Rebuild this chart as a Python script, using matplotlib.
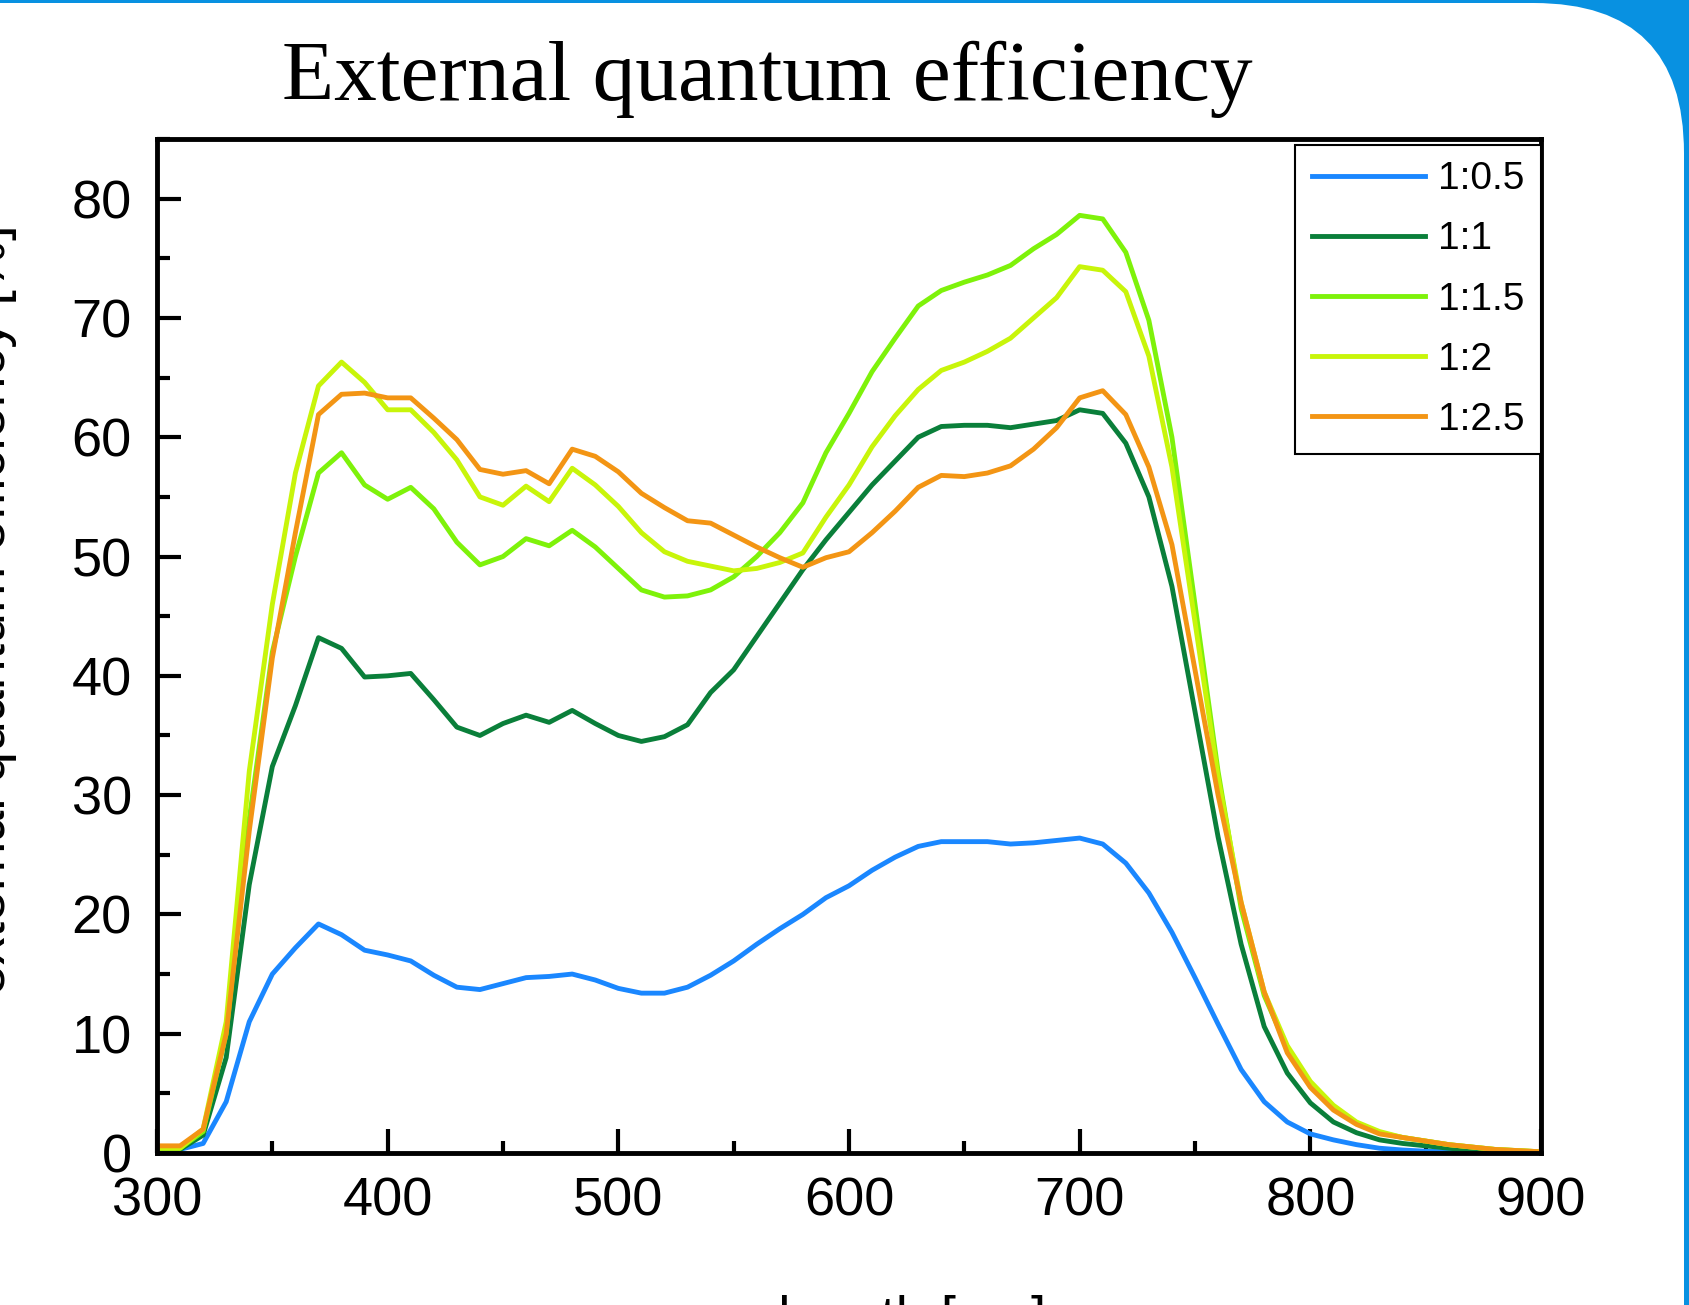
import matplotlib
matplotlib.use("Agg")
import matplotlib.pyplot as plt
import numpy as np
from matplotlib.patches import FancyBboxPatch
from matplotlib.transforms import IdentityTransform
from matplotlib.ticker import MultipleLocator

# wavelength grid [nm]
wl = np.arange(300, 910, 10)

eqe_05 = [0.3, 0.3, 0.8, 4.3, 11.0, 15.0, 17.2, 19.2, 18.3, 17.0,
          16.6, 16.1, 14.9, 13.9, 13.7, 14.2, 14.7, 14.8, 15.0, 14.5,
          13.8, 13.4, 13.4, 13.9, 14.9, 16.1, 17.5, 18.8, 20.0, 21.4,
          22.4, 23.7, 24.8, 25.7, 26.1, 26.1, 26.1, 25.9, 26.0, 26.2,
          26.4, 25.9, 24.3, 21.8, 18.5, 14.7, 10.8, 7.0, 4.3, 2.6,
          1.6, 1.1, 0.7, 0.4, 0.25, 0.15, 0.1, 0.05, 0.03, 0.02,
          0.01]
eqe_1 = [0.3, 0.3, 1.5, 8.0, 22.5, 32.4, 37.5, 43.2, 42.3, 39.9,
         40.0, 40.2, 38.0, 35.7, 35.0, 36.0, 36.7, 36.1, 37.1, 36.0,
         35.0, 34.5, 34.9, 35.9, 38.6, 40.5, 43.3, 46.1, 48.9, 51.4,
         53.7, 56.0, 58.0, 60.0, 60.9, 61.0, 61.0, 60.8, 61.1, 61.4,
         62.3, 62.0, 59.5, 55.0, 47.5, 37.0, 26.5, 17.5, 10.6, 6.7,
         4.2, 2.6, 1.7, 1.1, 0.8, 0.6, 0.4, 0.25, 0.15, 0.1,
         0.05]
eqe_15 = [0.4, 0.4, 1.8, 10.0, 28.0, 42.0, 50.0, 57.0, 58.7, 56.0,
          54.8, 55.8, 54.0, 51.2, 49.3, 50.0, 51.5, 50.9, 52.2, 50.8,
          49.0, 47.2, 46.6, 46.7, 47.2, 48.3, 50.0, 52.0, 54.5, 58.7,
          62.0, 65.5, 68.3, 71.0, 72.3, 73.0, 73.6, 74.4, 75.8, 77.0,
          78.6, 78.3, 75.5, 69.8, 60.0, 46.0, 32.0, 20.5, 13.2, 8.8,
          5.8, 3.8, 2.5, 1.7, 1.3, 1.0, 0.7, 0.5, 0.3, 0.2,
          0.1]
eqe_2 = [0.4, 0.4, 2.0, 11.0, 32.0, 46.0, 57.0, 64.3, 66.3, 64.6,
         62.3, 62.3, 60.4, 58.1, 55.0, 54.3, 55.9, 54.6, 57.4, 56.0,
         54.2, 52.0, 50.4, 49.6, 49.2, 48.8, 49.0, 49.5, 50.3, 53.3,
         56.0, 59.2, 61.8, 64.0, 65.6, 66.3, 67.2, 68.3, 70.0, 71.7,
         74.3, 74.0, 72.2, 66.8, 57.5, 44.5, 31.5, 21.0, 13.5, 9.0,
         6.0, 4.0, 2.6, 1.8, 1.3, 1.0, 0.7, 0.5, 0.3, 0.2,
         0.1]
eqe_25 = [0.6, 0.6, 2.0, 10.0, 27.0, 41.5, 52.0, 61.9, 63.6, 63.7,
          63.3, 63.3, 61.6, 59.8, 57.3, 56.9, 57.2, 56.1, 59.0, 58.4,
          57.1, 55.3, 54.1, 53.0, 52.8, 51.8, 50.8, 49.9, 49.1, 49.9,
          50.4, 52.0, 53.8, 55.8, 56.8, 56.7, 57.0, 57.6, 59.0, 60.8,
          63.3, 63.9, 61.9, 57.5, 51.0, 40.5, 30.0, 21.0, 13.5, 8.4,
          5.5, 3.6, 2.4, 1.6, 1.3, 1.0, 0.7, 0.5, 0.3, 0.2,
          0.1]

labels = ["1:0.5", "1:1", "1:1.5", "1:2", "1:2.5"]
series = [eqe_05, eqe_1, eqe_15, eqe_2, eqe_25]
colors = ["#1a87ff", "#0a7f3a", "#7ef20a", "#c8f50a", "#f39514"]

sans = "Liberation Sans"

fig = plt.figure(figsize=(16.89, 13.05), dpi=100, facecolor="#0891e1")

# white slide card with rounded top-right corner
card = FancyBboxPatch((-400, -400), 1684 + 400, 1302 + 400,
                      boxstyle="round,pad=0,rounding_size=150",
                      transform=IdentityTransform(), facecolor="white",
                      edgecolor="none", zorder=-10)
fig.patches.append(card)

ax = fig.add_axes([157 / 1689, 1 - 1153 / 1305, (1541 - 157) / 1689, (1153 - 139) / 1305])

for y, lab, c in zip(series, labels, colors):
    ax.plot(wl, y, color=c, lw=3.5, label=lab)

ax.set_xlim(300, 900)
ax.set_ylim(0, 85)
ax.xaxis.set_major_locator(MultipleLocator(100))
ax.xaxis.set_minor_locator(MultipleLocator(50))
ax.yaxis.set_major_locator(MultipleLocator(10))
ax.yaxis.set_minor_locator(MultipleLocator(5))
ax.tick_params(which="both", direction="in", top=False, right=False, width=3)
ax.tick_params(which="major", length=17, labelsize=39)
ax.tick_params(which="minor", length=9)
ax.tick_params(axis="y", which="major", pad=18)
ax.tick_params(axis="x", which="major", pad=17)
for t in ax.get_xticklabels() + ax.get_yticklabels():
    t.set_family(sans)
for s in ax.spines.values():
    s.set_linewidth(3.5)
    s.set_zorder(5)

leg = ax.legend(loc="upper right", bbox_to_anchor=(1, 1 - 6 / 1014),
                borderaxespad=0, fancybox=False, framealpha=1,
                edgecolor="black", prop={"family": sans, "size": 28},
                handlelength=2.9, handletextpad=0.35, labelspacing=0.62,
                borderpad=0.42)
leg.get_frame().set_linewidth(1.5)

fig.text(767 / 1689, 1 - 100 / 1305, "External quantum efficiency",
         family="Liberation Serif", fontsize=61.5, ha="center", va="baseline")
fig.text(849 / 1689, 1 - 1295 / 1305, "wavelength [nm]", family=sans,
         fontsize=39, ha="center", va="top")
fig.text(17 / 1689, 1 - 610 / 1305, "external quantum efficiency [%]",
         family=sans, fontsize=40, rotation=90, ha="right", va="center")

fig.savefig("out.png", dpi=100)
